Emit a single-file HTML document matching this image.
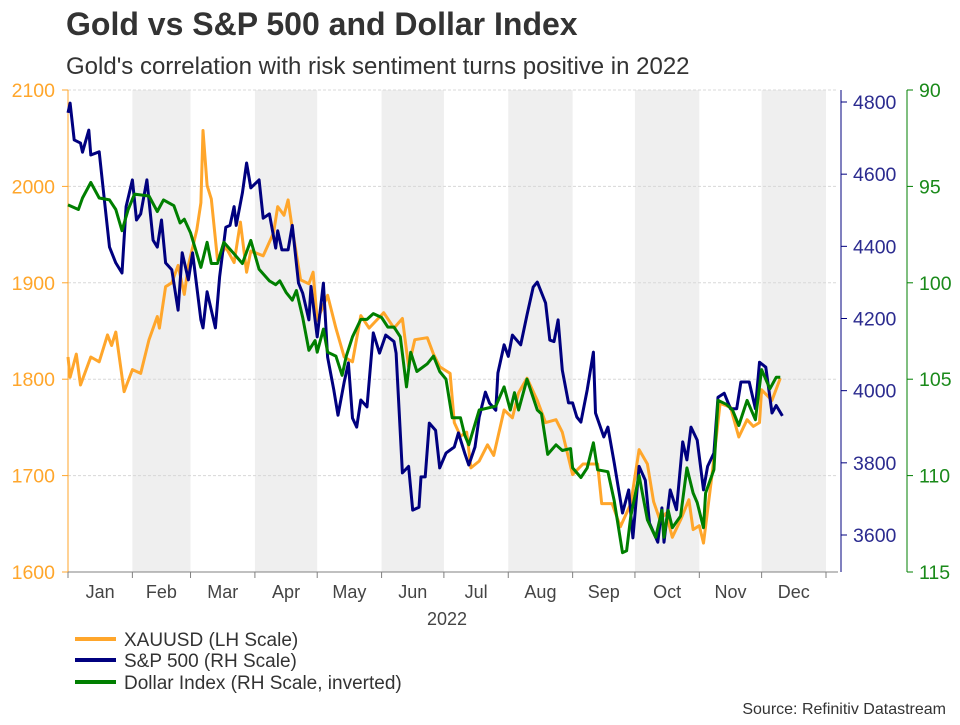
<!DOCTYPE html>
<html><head><meta charset="utf-8">
<style>
body{margin:0;background:#fff;width:960px;height:720px;overflow:hidden;font-family:"Liberation Sans",Arial,sans-serif;}
svg text{font-family:"Liberation Sans",Arial,sans-serif;}
</style></head>
<body>
<svg id="chart" width="960" height="720">
<text x="66" y="35" font-size="32" font-weight="bold" fill="#333">Gold vs S&amp;P 500 and Dollar Index</text>
<text x="66" y="74" font-size="24" fill="#333">Gold's correlation with risk sentiment turns positive in 2022</text>
<g id="bands"></g><g id="grid"></g><g id="axes"></g><g id="series"></g>
<text x="447" y="625" font-size="18" fill="#444" text-anchor="middle">2022</text>
<g>
<line x1="75" y1="639" x2="116" y2="639" stroke="#ffa62b" stroke-width="4"/>
<text x="124" y="646" font-size="19" fill="#333">XAUUSD (LH Scale)</text>
<line x1="75" y1="660" x2="116" y2="660" stroke="#00007f" stroke-width="4"/>
<text x="124" y="667" font-size="19" fill="#333">S&amp;P 500 (RH Scale)</text>
<line x1="75" y1="682" x2="116" y2="682" stroke="#007f00" stroke-width="4"/>
<text x="124" y="689" font-size="19" fill="#333">Dollar Index (RH Scale, inverted)</text>
</g>
<text x="946" y="714" font-size="16" fill="#333" text-anchor="end">Source: Refinitiv Datastream</text>
</svg>
<script>
const months=["Jan","Feb","Mar","Apr","May","Jun","Jul","Aug","Sep","Oct","Nov","Dec"];
const monthStartDays=[0,31,59,90,120,151,181,212,243,273,304,334,365];
const goldTicks=[1600,1700,1800,1900,2000,2100];
const spTicks=[3600,3800,4000,4200,4400,4600,4800];
const dxyTicks=[90,95,100,105,110,115];
const goldDays=[0,1,4,6,11,15,19,21,23,27,31,35,39,43,44,47,50,53,56,58,62,64,65,67,69,72,76,80,83,86,88,94,99,101,104,106,108,112,116,118,120,125,129,133,137,141,145,152,157,161,164,167,173,176,179,184,186,189,192,194,198,202,205,210,214,217,221,226,230,235,238,243,248,255,257,262,266,271,275,279,282,285,288,291,295,299,301,304,306,310,314,319,323,327,330,333,334,339,343];
const goldVals=[1823,1802,1826,1794,1823,1818,1846,1835,1849,1787,1810,1806,1841,1865,1853,1896,1900,1918,1888,1918,1955,1983,2058,2001,1987,1924,1937,1921,1963,1911,1933,1928,1952,1979,1970,1986,1956,1903,1899,1911,1861,1887,1853,1823,1818,1866,1853,1869,1853,1863,1813,1841,1843,1826,1813,1806,1755,1741,1745,1708,1715,1732,1721,1768,1760,1786,1801,1778,1755,1758,1745,1701,1712,1712,1671,1671,1647,1671,1727,1712,1673,1654,1661,1636,1654,1675,1644,1648,1630,1699,1775,1771,1740,1758,1751,1755,1789,1778,1801];
const spDays=[0,1,3,6,7,10,11,15,17,20,23,26,28,31,33,35,38,41,43,45,47,50,53,55,58,60,64,65,67,71,73,76,78,80,81,84,86,88,92,94,97,100,101,103,106,108,111,113,116,117,120,123,125,128,130,133,135,137,139,141,144,147,150,153,157,158,161,164,166,169,170,172,174,177,179,182,186,188,191,193,196,198,201,203,206,207,210,212,214,218,221,224,226,230,232,234,236,238,241,243,245,247,250,253,254,258,260,263,267,270,272,275,278,280,284,286,287,290,293,296,298,300,303,306,308,311,313,316,319,322,324,328,331,333,336,339,341,344];
const spVals=[4770,4797,4695,4686,4661,4722,4653,4662,4556,4398,4354,4326,4510,4584,4473,4490,4584,4417,4398,4473,4354,4335,4223,4382,4307,4382,4196,4174,4274,4174,4315,4453,4458,4510,4458,4548,4631,4562,4584,4478,4490,4395,4443,4390,4390,4458,4298,4270,4196,4289,4149,4298,4093,4002,3932,4024,4077,3924,3899,3974,3955,4160,4104,4154,4136,4104,3772,3790,3669,3677,3761,3761,3910,3890,3786,3827,3844,3883,3827,3794,3844,3927,3996,3965,3946,4049,4127,4095,4154,4127,4210,4287,4301,4243,4140,4136,4196,4057,3966,3966,3927,3913,4002,4107,3938,3872,3899,3800,3661,3725,3592,3790,3752,3633,3580,3675,3580,3725,3670,3858,3808,3899,3863,3725,3790,3827,3982,3993,3950,3950,4024,4024,3950,4079,4065,3938,3959,3930];
const dxyDays=[0,5,7,11,15,20,23,26,29,32,39,43,46,51,54,56,59,64,67,69,72,75,80,84,88,92,97,100,102,105,108,110,113,116,119,120,123,125,129,132,134,137,141,144,147,151,154,157,160,163,165,168,173,176,179,182,185,189,191,193,198,206,210,213,215,217,221,226,228,231,235,238,242,243,247,250,253,255,260,263,267,269,271,275,279,283,286,287,289,291,295,298,301,303,306,307,311,313,317,320,323,327,331,334,338,341,343];
const dxyVals=[95.96,96.2,95.6,94.8,95.6,95.7,96.2,97.3,96.2,95.4,95.5,96.3,95.7,96.0,96.9,96.7,97.4,99.2,97.9,99.0,99.0,97.9,98.5,99.0,97.8,99.3,99.9,100.1,99.9,100.5,100.9,100.4,101.8,103.5,103.0,103.6,102.4,103.6,103.8,104.8,103.8,102.8,101.9,101.9,101.6,101.8,102.3,102.3,102.8,105.4,103.6,104.6,104.2,103.8,104.6,105.0,107.0,107.0,107.9,108.4,106.6,106.4,105.4,106.6,105.7,106.6,105.0,106.6,106.8,108.9,108.4,108.7,108.6,109.6,110.1,109.6,108.3,109.7,109.8,111.3,114.0,113.9,112.1,110.0,112.3,113.2,111.8,113.2,111.8,112.7,112.1,109.6,110.9,111.4,112.7,110.9,109.7,106.1,106.3,106.6,107.4,106.1,107.1,104.5,105.5,104.9,104.9];

const NS="http://www.w3.org/2000/svg";
const X0=68,X1=826,Y0=90,Y1=572;
const xs=d=>X0+(d/365)*(X1-X0);
const yGold=v=>Y0+(2100-v)/500*(Y1-Y0);
const ySP=v=>102+(4800-v)/1200*(535-102);
const yDxy=v=>Y0+(v-90)/25*(Y1-Y0);
function mk(tag,attrs,parent){const e=document.createElementNS(NS,tag);for(const k in attrs)e.setAttribute(k,attrs[k]);parent.appendChild(e);return e;}
const bands=document.getElementById('bands'),grid=document.getElementById('grid'),axes=document.getElementById('axes'),series=document.getElementById('series');
for(let m=1;m<12;m+=2){
 const r=mk('rect',{x:xs(monthStartDays[m]),y:Y0,width:xs(monthStartDays[m+1])-xs(monthStartDays[m]),height:Y1-Y0,fill:'#efefef'},bands);
 
 
}
goldTicks.forEach(v=>{
 const y=yGold(v);
 if(v>1600){const g=mk('line',{x1:X0,x2:X1+12,y1:y,y2:y,stroke:'#d8d8d8','stroke-dasharray':'3,2'},grid);
 
 }
 const t=mk('line',{x1:X0-6,x2:X0,y1:y,y2:y,stroke:'#ffa62b'},axes);
 
 
 const tx=mk('text',{x:55,y:y+7,'font-size':19.5,fill:'#ffa62b','text-anchor':'end'},axes);tx.textContent=v;
 
 
});
let l=mk('line',{x1:X0,x2:X0,y1:Y0,y2:Y1,stroke:'#ffa62b'},axes);


l=mk('line',{x1:841,x2:841,y1:Y0,y2:Y1,stroke:'#00007f'},axes);


spTicks.forEach(v=>{const y=ySP(v);
 const t=mk('line',{x1:841,x2:847,y1:y,y2:y,stroke:'#00007f'},axes);
 
 
 const tx=mk('text',{x:853,y:y+7,'font-size':19.5,fill:'#2b2b8f'},axes);tx.textContent=v;
 
 
});
l=mk('line',{x1:907,x2:907,y1:Y0,y2:Y1,stroke:'#007f00'},axes);


dxyTicks.forEach(v=>{const y=yDxy(v);
 const t=mk('line',{x1:907,x2:913,y1:y,y2:y,stroke:'#007f00'},axes);
 
 
 const tx=mk('text',{x:919,y:y+7,'font-size':19.5,fill:'#1a8a1a'},axes);tx.textContent=v;
 
 
});
l=mk('line',{x1:X0,x2:X1+12,y1:Y1,y2:Y1,stroke:'#808080'},axes);


monthStartDays.forEach((d,i)=>{
 const t=mk('line',{x1:xs(d),x2:xs(d),y1:Y1,y2:Y1+6,stroke:'#808080'},axes);
 
 
 if(i<12){const tx=mk('text',{x:(xs(d)+xs(monthStartDays[i+1]))/2,y:598,'font-size':18,fill:'#444','text-anchor':'middle'},axes);tx.textContent=months[i];
 
 }
});
function line(days,vals,yf,color,name){
 const n=Math.min(days.length,vals.length);let d='';
 for(let i=0;i<n;i++)d+=(i?'L':'M')+xs(days[i]).toFixed(1)+','+yf(vals[i]).toFixed(1);
 const p=mk('path',{d:d,fill:'none',stroke:color,'stroke-width':3,'stroke-linejoin':'round'},series);
 
 
}
line(goldDays,goldVals,yGold,'#ffa62b','gold-line');
line(spDays,spVals,ySP,'#00007f','sp500-line');
line(dxyDays,dxyVals,yDxy,'#007f00','dollar-index-line');
</script>
</body></html>
